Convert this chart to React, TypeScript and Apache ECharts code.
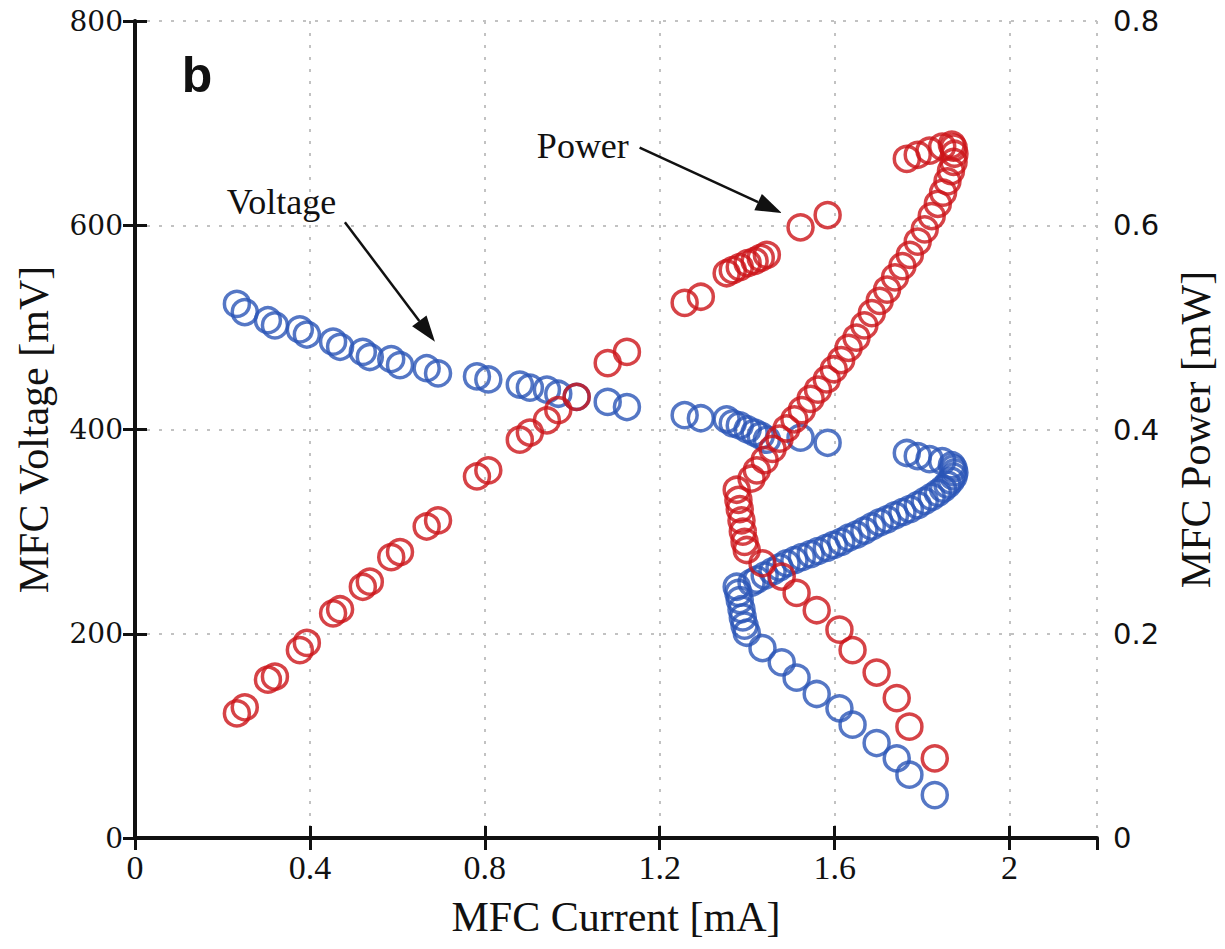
import React, { useEffect, useRef } from "react";
import * as echarts from "echarts";

// MFC Current [mA]
const currentMA = [
  0.233, 0.251, 0.304, 0.320, 0.377, 0.393, 0.453, 0.469, 0.521, 0.537, 0.586, 0.606,
  0.667, 0.693, 0.782, 0.808, 0.880, 0.903, 0.942, 0.968, 1.010, 1.081, 1.125,
  1.257, 1.294, 1.353, 1.367, 1.383, 1.401, 1.417, 1.431, 1.445, 1.522, 1.584,
  1.829, 1.771, 1.742, 1.696, 1.641, 1.611, 1.559, 1.513, 1.479, 1.435, 1.399,
  1.394, 1.390, 1.387, 1.383, 1.380, 1.376,
  1.410, 1.422, 1.440, 1.458, 1.474, 1.490, 1.508, 1.525, 1.545, 1.562, 1.582, 1.598,
  1.615, 1.632, 1.650, 1.668, 1.685, 1.703, 1.720, 1.738, 1.755, 1.772, 1.790, 1.806,
  1.822, 1.836, 1.848, 1.858, 1.866, 1.872, 1.874, 1.872, 1.868,
  1.846, 1.817, 1.790, 1.765,
];

// MFC Voltage [mV]
const voltageMV = [
  523, 515, 507, 502, 498, 493, 486, 481, 476, 471, 469, 463,
  460, 455, 452, 449, 444, 441, 439, 435, 432, 427, 422,
  414, 411, 410, 406, 404, 400, 397, 394, 390, 392, 387,
  42, 62, 78, 93, 111, 127, 141, 157, 172, 186, 201,
  208, 216, 224, 233, 240, 246,
  250, 253, 257, 261, 265, 269, 272, 275, 278, 281, 284, 287,
  290, 294, 297, 301, 305, 309, 312, 316, 319, 322, 326, 330,
  334, 338, 342, 346, 350, 354, 358, 362, 365,
  369, 371, 374, 377,
];

// MFC Power [mW]
const powerMW = [
  0.122, 0.128, 0.155, 0.158, 0.184, 0.191, 0.220, 0.224, 0.246, 0.251, 0.275, 0.280,
  0.305, 0.311, 0.354, 0.360, 0.390, 0.397, 0.409, 0.419, 0.432, 0.465, 0.476,
  0.524, 0.530, 0.553, 0.556, 0.559, 0.563, 0.565, 0.568, 0.571, 0.598, 0.610,
  0.078, 0.109, 0.137, 0.162, 0.184, 0.204, 0.223, 0.240, 0.256, 0.269, 0.282,
  0.290, 0.300, 0.311, 0.322, 0.331, 0.341,
  0.352, 0.360, 0.370, 0.381, 0.391, 0.401, 0.410, 0.419, 0.430, 0.439, 0.449, 0.459,
  0.468, 0.480, 0.490, 0.502, 0.514, 0.526, 0.537, 0.549, 0.560, 0.571, 0.584, 0.596,
  0.609, 0.621, 0.632, 0.643, 0.653, 0.662, 0.670, 0.676, 0.679,
  0.677, 0.673, 0.669, 0.665,
];

// annotations in data units (current mA, voltage mV)
const annotationTexts = [
  { text: "Voltage", at: [0.21, 623] },
  { text: "Power", at: [0.919, 678] },
];
const annotationArrows = [
  { from: [0.48, 603], to: [0.686, 486] },
  { from: [1.154, 676], to: [1.479, 612] },
];
const panelLabel = { text: "b", at: [0.107, 747] };

const BLUE = "#2A55B6";
const RED = "#CC1419";
const INK = "#111111";

export default function App() {
  const ref = useRef<HTMLDivElement>(null);

  useEffect(() => {
    if (!ref.current) return;
    const chart = echarts.init(ref.current, null, { renderer: "svg" });

    const tickStyle = { inside: true, length: 12, lineStyle: { color: INK, width: 3 } };
    const gridLine = { show: true, lineStyle: { color: "#c2c2c2", width: 2, type: [3, 9] as any } };

    chart.setOption({
      animation: false,
      backgroundColor: "#ffffff",
      grid: { left: 135, right: 128, top: 21, bottom: 111 },
      xAxis: [
        {
          type: "value", min: 0, max: 2.2, interval: 0.4, position: "bottom",
          name: "MFC Current [mA]", nameLocation: "middle", nameGap: 58,
          nameTextStyle: { fontFamily: "Liberation Serif", fontSize: 42, color: INK },
          axisLine: { lineStyle: { color: INK, width: 4 } },
          axisTick: tickStyle,
          axisLabel: { fontFamily: "Liberation Serif", fontSize: 34, color: INK, margin: 12, showMaxLabel: false },
          splitLine: gridLine,
        },
        {
          type: "value", min: 0, max: 2.2, interval: 0.4, position: "top",
          axisLine: { lineStyle: { color: INK, width: 3 } },
          axisTick: tickStyle,
          axisLabel: { show: false },
          splitLine: { show: false },
        },
      ],
      yAxis: [
        {
          type: "value", min: 0, max: 800, interval: 200, position: "left",
          name: "MFC Voltage [mV]", nameLocation: "middle", nameGap: 80, nameRotate: 90,
          nameTextStyle: { fontFamily: "Liberation Serif", fontSize: 42, color: INK },
          axisLine: { lineStyle: { color: INK, width: 4 } },
          axisTick: tickStyle,
          axisLabel: { fontFamily: "DejaVu Serif", fontSize: 28, color: INK, margin: 12 },
          splitLine: gridLine,
        },
        {
          type: "value", min: 0, max: 0.8, interval: 0.2, position: "right",
          name: "MFC Power [mW]", nameLocation: "middle", nameGap: 78, nameRotate: 90,
          nameTextStyle: { fontFamily: "Liberation Serif", fontSize: 42, color: INK },
          axisLine: { lineStyle: { color: INK, width: 3 } },
          axisTick: tickStyle,
          axisLabel: { fontFamily: "DejaVu Sans", fontSize: 29, color: INK, margin: 16 },
          splitLine: { show: false },
        },
      ],
      series: [
        {
          name: "Voltage", type: "scatter", xAxisIndex: 0, yAxisIndex: 0,
          symbol: "circle", symbolSize: 25,
          itemStyle: { color: "rgba(0,0,0,0)", borderColor: BLUE, borderWidth: 3.5 },
          data: currentMA.map((c, i) => [c, voltageMV[i]]),
          z: 3,
        },
        {
          name: "Power", type: "scatter", xAxisIndex: 0, yAxisIndex: 1,
          symbol: "circle", symbolSize: 25,
          itemStyle: { color: "rgba(0,0,0,0)", borderColor: RED, borderWidth: 3.5 },
          data: currentMA.map((c, i) => [c, powerMW[i]]),
          z: 4,
        },
      ],
    });

    const px = (p: number[]) =>
      chart.convertToPixel({ xAxisIndex: 0, yAxisIndex: 0 }, p) as number[];

    const graphics: any[] = [];
    annotationTexts.forEach((a) => {
      const [x, y] = px(a.at);
      graphics.push({
        type: "text", x, y, z: 10,
        style: { text: a.text, font: '36px "Liberation Serif"', fill: INK, align: "left", verticalAlign: "middle" },
      });
    });
    annotationArrows.forEach((a) => {
      const [x1, y1] = px(a.from);
      const [x2, y2] = px(a.to);
      const dx = x2 - x1, dy = y2 - y1;
      const len = Math.hypot(dx, dy);
      const ux = dx / len, uy = dy / len;
      const head = 26, half = 9;
      const bx = x2 - ux * head, by = y2 - uy * head;
      graphics.push({
        type: "line", z: 10,
        shape: { x1, y1, x2: bx, y2: by },
        style: { stroke: INK, lineWidth: 2.5 },
      });
      graphics.push({
        type: "polygon", z: 10,
        shape: { points: [[x2, y2], [bx - uy * half, by + ux * half], [bx + uy * half, by - ux * half]] },
        style: { fill: INK },
      });
    });
    {
      const [x, y] = px(panelLabel.at);
      graphics.push({
        type: "text", x, y, z: 10,
        style: { text: panelLabel.text, font: 'bold 50px "Liberation Sans"', fill: INK, align: "left", verticalAlign: "middle" },
      });
    }
    chart.setOption({ graphic: graphics });

    return () => chart.dispose();
  }, []);

  return (
    <div
      ref={ref}
      style={{ position: "fixed", left: 0, top: 0, width: 1225, height: 949, background: "#fff" }}
    />
  );
}
